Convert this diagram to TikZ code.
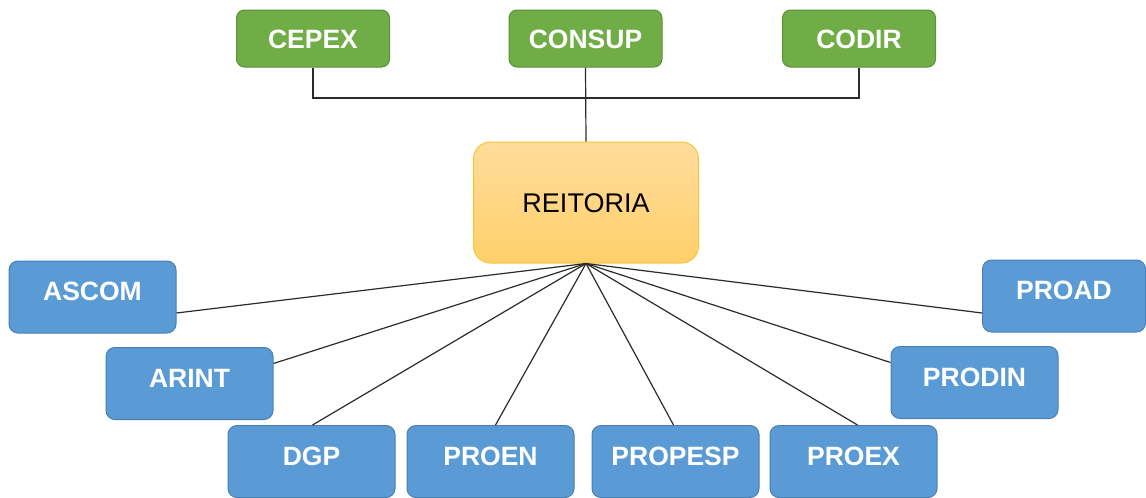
\documentclass[tikz,border=0pt]{standalone}
\usepackage{fontspec}
\setmainfont{Liberation Sans}
\definecolor{bluefill}{HTML}{5B9BD5}
\definecolor{blueline}{HTML}{4A7FB5}
\definecolor{greenfill}{HTML}{70AD47}
\definecolor{greenline}{HTML}{5B8F3A}
\definecolor{orangetop}{HTML}{FFDC9C}
\definecolor{orangebot}{HTML}{FFD06A}
\definecolor{orangeline}{HTML}{F7C436}
\definecolor{conn}{HTML}{2B2B2B}
\tikzset{
  bluebox/.style={draw=blueline, fill=bluefill, line width=1pt, rounded corners=9pt,
    minimum width=167pt, minimum height=72pt, inner sep=0pt, text=white,
    font=\fontsize{26.5}{30}\selectfont\bfseries, text height=19pt, text depth=12pt},
  greenbox/.style={draw=greenline, fill=greenfill, line width=1pt, rounded corners=8pt,
    minimum width=153pt, minimum height=57pt, inner sep=0pt, text=white,
    font=\fontsize{26.5}{30}\selectfont\bfseries, text height=19pt, text depth=0pt},
  reitbox/.style={draw=orangeline, top color=orangetop, bottom color=orangebot, line width=1pt,
    rounded corners=17pt, minimum width=225pt, minimum height=121pt, inner sep=0pt,
    text=black, font=\fontsize{27}{30}\selectfont, text height=19pt, text depth=0pt},
  link/.style={draw=conn, line width=1.2pt}
}
\begin{document}
\begin{tikzpicture}[x=1pt,y=-1pt]
\useasboundingbox (0,0) rectangle (1146,498);
% top boxes
\node[greenbox] (CEPEX) at (313,38.5) {CEPEX};
\node[greenbox] (CONSUP) at (585.5,38.5) {CONSUP};
\node[greenbox] (CODIR) at (859,38.5) {CODIR};
\node[reitbox] (REITORIA) at (586,202.5) {REITORIA};
\coordinate (bus) at (585,98);
\draw[link] (CEPEX.south) |- (bus) -| (CODIR.south);
\draw[link] (CONSUP.south) -- (REITORIA.north);
% blue boxes
\node[bluebox] (ASCOM) at (92.5,297) {ASCOM};
\node[bluebox] (ARINT) at (189.5,383.5) {ARINT};
\node[bluebox] (DGP) at (311.5,461.5) {DGP};
\node[bluebox] (PROEN) at (490.5,461.5) {PROEN};
\node[bluebox] (PROPESP) at (675.5,461.5) {PROPESP};
\node[bluebox] (PROEX) at (853.5,461.5) {PROEX};
\node[bluebox] (PRODIN) at (974.5,382.5) {PRODIN};
\node[bluebox, minimum width=163pt] (PROAD) at (1064,296) {PROAD};
% connectors
\draw[link] (REITORIA.south) -- ([yshift=-16pt]ASCOM.east);
\draw[link] (REITORIA.south) -- ([yshift=20pt]ARINT.east);
\draw[link] (REITORIA.south) -- ([xshift=1pt]DGP.north);
\draw[link] (REITORIA.south) -- ([xshift=5pt]PROEN.north);
\draw[link] (REITORIA.south) -- ([xshift=-2pt]PROPESP.north);
\draw[link] (REITORIA.south) -- ([xshift=4pt]PROEX.north);
\draw[link] (REITORIA.south) -- ([yshift=20pt]PRODIN.west);
\draw[link] (REITORIA.south) -- ([yshift=-17pt]PROAD.west);
\end{tikzpicture}
\end{document}
